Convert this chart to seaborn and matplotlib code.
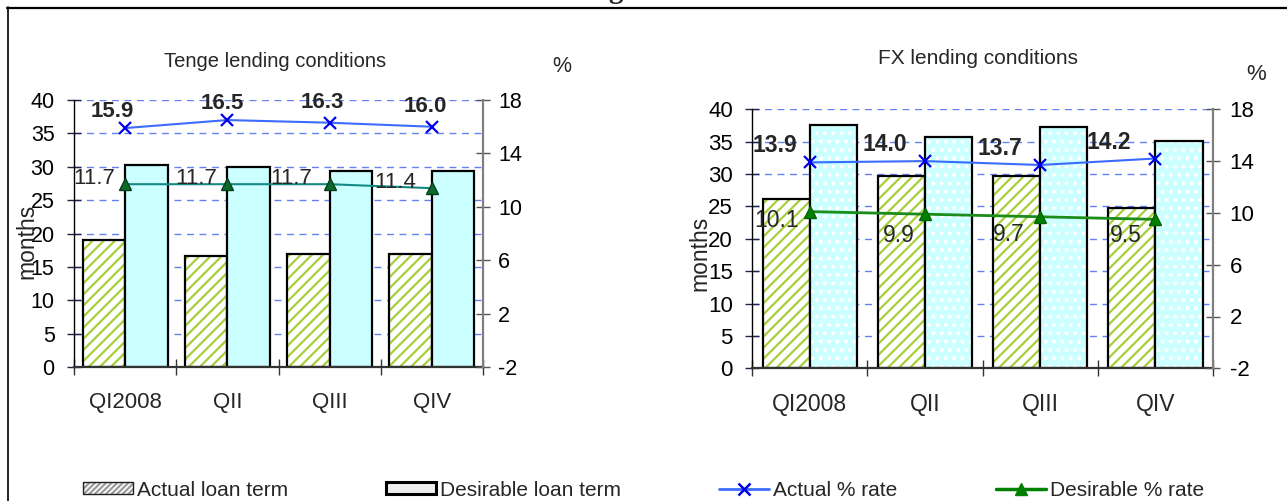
import numpy as np
import pandas as pd
import matplotlib
matplotlib.use("Agg")
import matplotlib.pyplot as plt
from matplotlib.colors import to_rgba
from matplotlib.lines import Line2D
from matplotlib.patches import Patch
import seaborn as sns

# ---- data -------------------------------------------------------------
quarters = ["QI2008", "QII", "QIII", "QIV"]

# Tenge loans: loan terms (months) and interest rates (%)
tenge_actual_term = [19.1, 16.7, 17.0, 17.0]
tenge_desired_term = [30.2, 30.0, 29.4, 29.4]
tenge_actual_rate = [15.9, 16.5, 16.3, 16.0]
tenge_desired_rate = [11.7, 11.7, 11.7, 11.4]

# Foreign-currency loans
fx_actual_term = [26.2, 29.7, 29.7, 24.7]
fx_desired_term = [37.6, 35.7, 37.3, 35.1]
fx_actual_rate = [13.9, 14.0, 13.7, 14.2]
fx_desired_rate = [10.1, 9.9, 9.7, 9.5]

term_series = ["Actual loan term", "Desirable loan term"]
rate_series = ["Actual % rate", "Desirable % rate"]
month_ticks = [0, 5, 10, 15, 20, 25, 30, 35, 40]
rate_ticks = [-2, 2, 6, 10, 14, 18]

# ---- style ------------------------------------------------------------
sns.set_theme(style="white")
plt.rcParams["font.family"] = ["Liberation Sans", "DejaVu Sans"]
plt.rcParams["hatch.linewidth"] = 1.6
plt.rcParams["axes.unicode_minus"] = False

CYAN = "#ccffff"
HATCH_GREEN = "#a6cf3a"
GRID_BLUE = "#4a6cf0"
BLUE_LINE = "#3c6cff"
BLUE_MARK = "#0000ee"
LEGEND_FS = 15

fig = plt.figure(figsize=(12.87, 5.01), dpi=100, facecolor="white")
W, H = 1287, 501


def px_axes(x0, x1, y_top, y_bot):
    return fig.add_axes([x0 / W, 1 - y_bot / H, (x1 - x0) / W, (y_bot - y_top) / H])


def draw_panel(ax, title, actual_term, desired_term, actual_rate, desired_rate, st):
    fs = st["fs"]
    terms = pd.DataFrame({
        "quarter": quarters * 2,
        "series": [term_series[0]] * len(quarters) + [term_series[1]] * len(quarters),
        "months": actual_term + desired_term,
    })
    sns.barplot(data=terms, x="quarter", y="months", hue="series",
                order=quarters, hue_order=term_series,
                palette=["white", CYAN], saturation=1, width=st["bar_width"],
                edgecolor="black", linewidth=1.6, legend=False, ax=ax, zorder=2)
    for bar in ax.containers[0]:
        bar.set_hatch("///")
        bar._hatch_color = to_rgba(HATCH_GREEN)
    if st["dotted"]:
        for bar in ax.containers[1]:
            bar.set_hatch("..")
            bar._hatch_color = to_rgba("white")

    ax.set_ylim(0, 40)
    ax.set_yticks(month_ticks)
    ax.set_axisbelow(True)
    ax.yaxis.grid(True, color=GRID_BLUE, linestyle=(0, (5, 4)), linewidth=1.0, alpha=0.85)
    ax.xaxis.grid(False)
    ax.set_xlabel("")
    ax.set_ylabel("months", fontsize=16.5, labelpad=0)
    ax.yaxis.set_label_coords(*st["ylabel_xy"])
    for side in ("top", "right"):
        ax.spines[side].set_visible(False)
    ax.spines["left"].set_color("black")
    ax.spines["left"].set_linewidth(1.0)
    ax.spines["bottom"].set_color("#333333")
    ax.spines["bottom"].set_linewidth(1.6)
    ax.tick_params(axis="y", which="major", direction="inout", length=10, width=1.0,
                   color="#222244", labelsize=fs, pad=st["lpad"], left=True, labelcolor="black")

    # twin axis for the interest rates
    ax2 = ax.twinx()
    sns.lineplot(x=quarters, y=actual_rate, ax=ax2, sort=False, color=BLUE_LINE,
                 linewidth=1.5, marker="x", markersize=8, markeredgecolor=BLUE_MARK,
                 markeredgewidth=1.6, zorder=4)
    ds = st["desired"]
    sns.lineplot(x=quarters, y=desired_rate, ax=ax2, sort=False,
                 color=ds["line"], linewidth=ds["lw"], marker="^",
                 markersize=ds["ms"], markerfacecolor=ds["face"],
                 markeredgecolor=ds["edge"], markeredgewidth=1.0, zorder=4)
    ax2.set_ylim(-2, 18)
    ax2.set_yticks(rate_ticks)
    ax2.set_ylabel("")
    ax2.grid(False)
    for side in ("top", "left", "bottom"):
        ax2.spines[side].set_visible(False)
    ax2.spines["right"].set_color("#808080")
    ax2.spines["right"].set_linewidth(1.6)
    ax2.tick_params(axis="y", direction="inout", length=10, width=1.0, color="#555555",
                    labelsize=fs, pad=st["rpad"], right=True, labelcolor="black")

    # category ticks sit between the groups, labels at the group centres
    n = len(quarters)
    ax.set_xlim(-0.5, n - 0.5)
    ax.set_xticks(np.arange(n + 1) - 0.5)
    ax.set_xticklabels([])
    ax.set_xticks(np.arange(n), minor=True)
    ax.set_xticklabels(quarters, minor=True, fontsize=st["xfs"])
    ax.tick_params(axis="x", which="major", direction="inout", length=12, width=1.0,
                   color="#333333", bottom=True)
    ax.tick_params(axis="x", which="minor", length=0, pad=18, bottom=True)

    for i, (q, v) in enumerate(zip(quarters, actual_rate)):
        ax2.annotate(f"{v:.1f}", xy=(q, v), xytext=st["actual_off"][i],
                     textcoords="offset pixels", ha=st["actual_ha"], va="center",
                     fontsize=st["dfs"], fontweight="bold", zorder=5)
    for i, (q, v) in enumerate(zip(quarters, desired_rate)):
        ax2.annotate(f"{v:.1f}", xy=(q, v), xytext=st["desired_off"][i],
                     textcoords="offset pixels", ha="right", va="center",
                     fontsize=st["dfs"], zorder=5)

    ax.text(*st["title_xy"], title, transform=ax.transAxes, ha="center",
            va="center", fontsize=st["tfs"])
    ax2.text(*st["pct_xy"], "%", transform=ax2.transAxes, ha="center",
             va="center", fontsize=fs)


ax_l = px_axes(74, 483, 100, 367.3)
draw_panel(ax_l, "Tenge lending conditions",
           tenge_actual_term, tenge_desired_term, tenge_actual_rate, tenge_desired_rate,
           dict(fs=15.5, xfs=16, dfs=16, tfs=14.5, lpad=9, rpad=6,
                bar_width=0.83, dotted=False,
                title_xy=(0.4914, 1.143), pct_xy=(1.193, 1.127), ylabel_xy=(-0.087, 0.47),
                desired={"line": "#138a84", "lw": 1.5, "ms": 8, "face": "#0b6b2b", "edge": "#073d1a"},
                actual_off=[(-13, 17), (-5, 17), (-7, 20), (-7, 20)], actual_ha="center",
                desired_off=[(-10, 6), (-10, 6), (-17, 6), (-16, 6)]))

ax_r = px_axes(752.2, 1213, 109.3, 368.3)
draw_panel(ax_r, "FX lending conditions",
           fx_actual_term, fx_desired_term, fx_actual_rate, fx_desired_rate,
           dict(fs=16, xfs=16.5, dfs=16.5, tfs=15, lpad=9, rpad=7,
                bar_width=0.82, dotted=True,
                title_xy=(0.49, 1.196), pct_xy=(1.093, 1.136), ylabel_xy=(-0.088, 0.445),
                desired={"line": "#1a8c1a", "lw": 2.0, "ms": 9, "face": "#008000", "edge": "#006400"},
                actual_off=[(-13, 17), (-18, 17), (-18, 16), (-24, 16)], actual_ha="right",
                desired_off=[(-11, -9), (-10, -21), (-16, -18), (-14, -16)]))

# page heading, clipped by the top edge, and the surrounding frame
fig.text(0.5, 1 + 1.5 / H, "Lending Conditions", ha="center", va="baseline",
         fontsize=21, fontweight="bold", family=["Liberation Serif", "DejaVu Serif"])
fig.add_artist(Line2D([7 / W, 1.0], [1 - 7.5 / H, 1 - 7.5 / H], transform=fig.transFigure,
                      color="black", linewidth=1.6))
fig.add_artist(Line2D([7.5 / W, 7.5 / W], [0.0, 1 - 7 / H], transform=fig.transFigure,
                      color="black", linewidth=1.2))

# shared legend
legend_handles = [
    Patch(facecolor="white", edgecolor="#222222", hatch="//////", linewidth=1.0),
    Patch(facecolor="#eeeeee", edgecolor="black", linewidth=2.2),
    Line2D([], [], color=BLUE_LINE, linewidth=2, marker="x", markersize=9,
           markeredgecolor=BLUE_MARK, markeredgewidth=1.8),
    Line2D([], [], color="#008000", linewidth=2.5, marker="^", markersize=9,
           markerfacecolor="#008000", markeredgecolor="#008000"),
]
leg = fig.legend(legend_handles, term_series + rate_series, loc="center left",
                 bbox_to_anchor=(83 / W, 1 - 490 / H), ncol=4, frameon=False,
                 borderpad=0, borderaxespad=0, handlelength=2.4, handleheight=0.5,
                 handletextpad=0.2, columnspacing=4.7, fontsize=LEGEND_FS)
leg.legend_handles[0]._hatch_color = to_rgba("#9a9a9a")

fig.savefig("out.png", dpi=100, facecolor="white")
